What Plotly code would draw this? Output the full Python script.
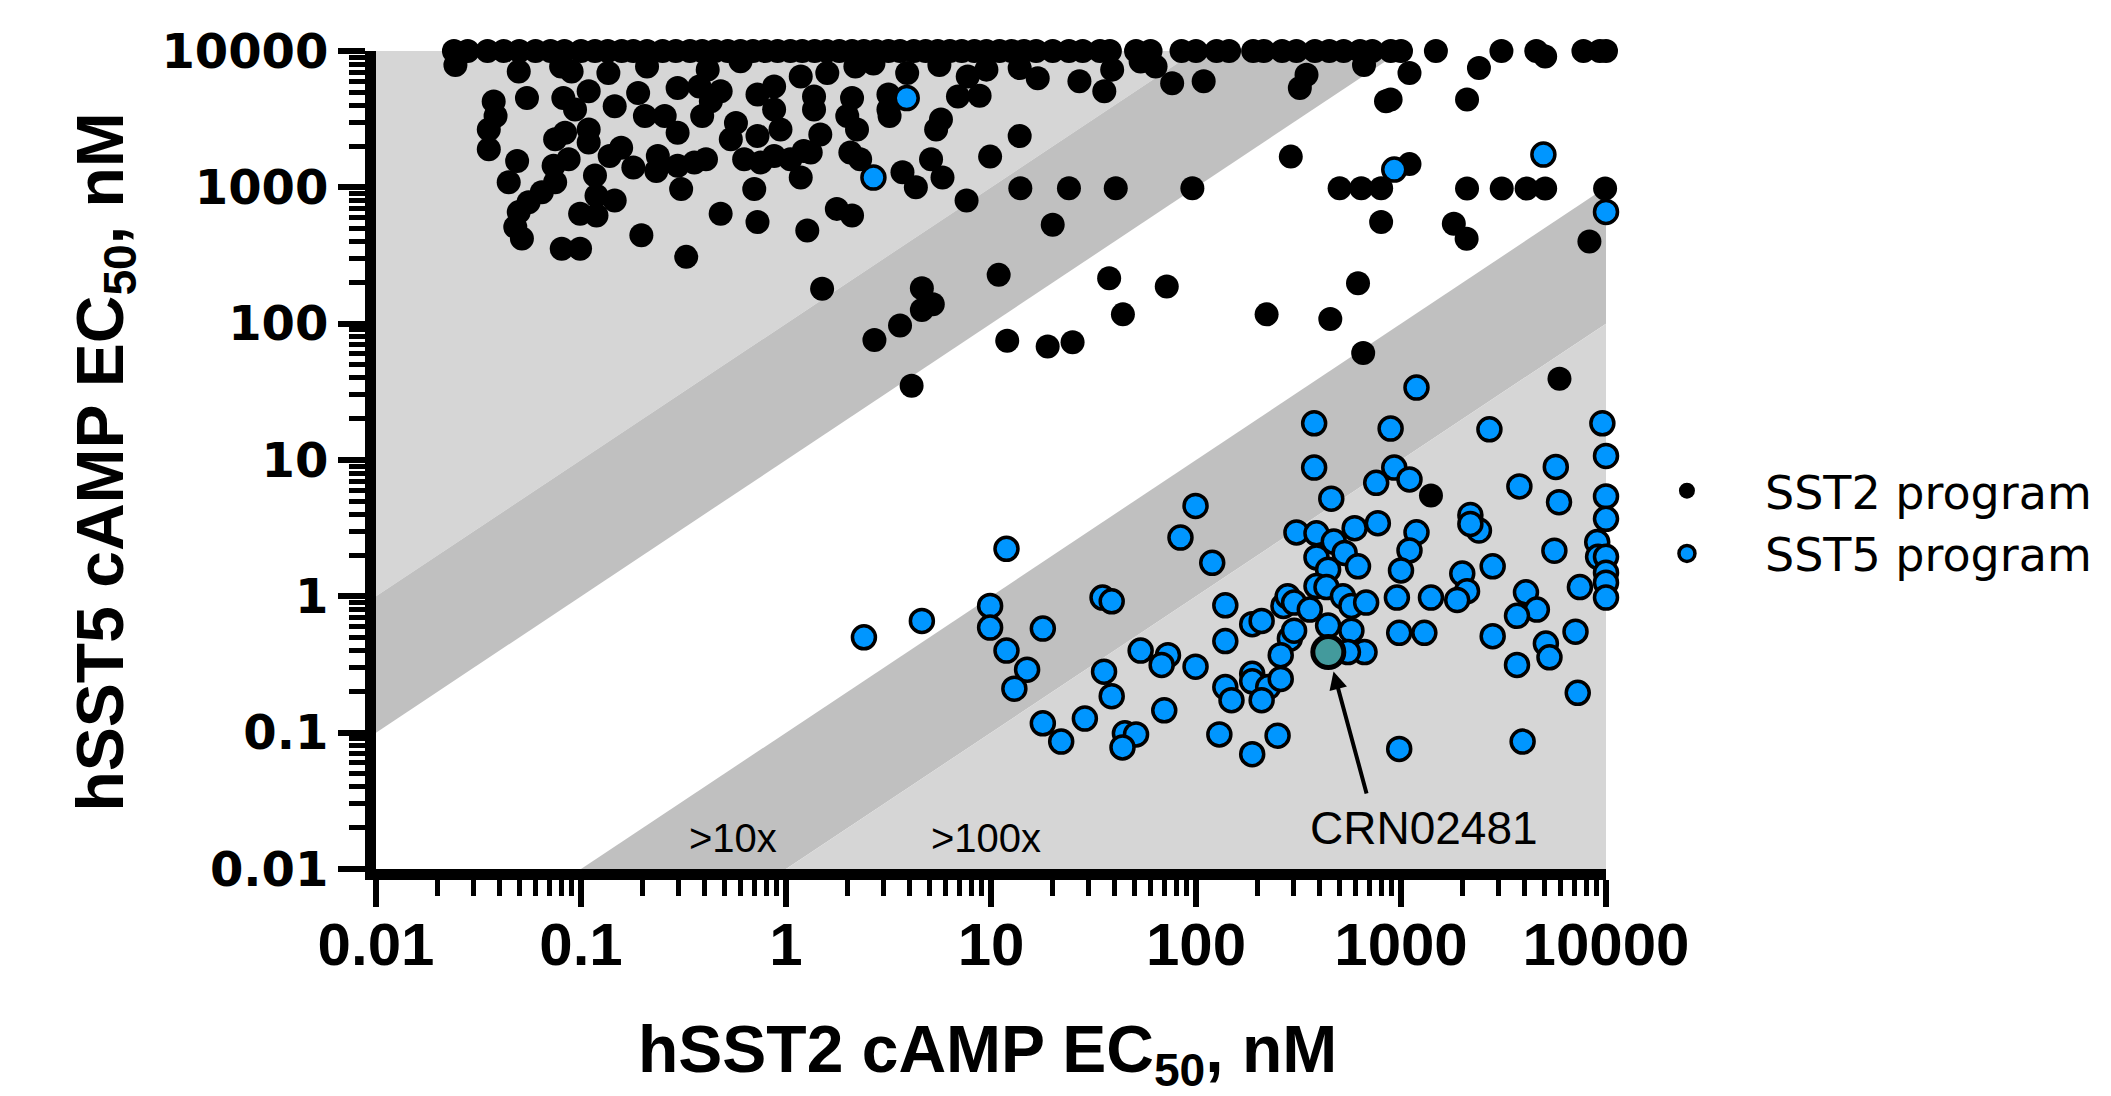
import numpy as np
import plotly.graph_objects as go

# ---------------- axis / band definitions ----------------
AXIS_MIN = 0.01
AXIS_MAX = 10000
tick_vals = [0.01, 0.1, 1, 10, 100, 1000, 10000]
tick_text = ["0.01", "0.1", "1", "10", "100", "1000", "10000"]
FOLD_LO = 10
FOLD_HI = 100
band_labels = [">10x", ">100x"]
band_label_x = [0.55, 9.5]
band_label_y = [0.0168, 0.0168]

# ---------------- data (EC50, nM): (hSST2, hSST5) ----------------
sst2_capped = [
    (0.024, 10000), (0.028, 10000), (0.035, 10000), (0.042, 10000), (0.05, 10000),
    (0.06, 10000), (0.071, 10000), (0.083, 10000), (0.1, 10000), (0.117, 10000),
    (0.135, 10000), (0.158, 10000), (0.18, 10000), (0.21, 10000), (0.25, 10000),
    (0.29, 10000), (0.34, 10000), (0.39, 10000), (0.45, 10000), (0.52, 10000),
    (0.6, 10000), (0.69, 10000), (0.79, 10000), (0.91, 10000), (1.05, 10000),
    (1.2, 10000), (1.38, 10000), (1.58, 10000), (1.82, 10000), (2.1, 10000),
    (2.4, 10000), (2.75, 10000), (3.16, 10000), (3.6, 10000), (4.2, 10000),
    (4.8, 10000), (5.5, 10000), (6.3, 10000), (7.2, 10000), (8.3, 10000),
    (9.5, 10000), (11, 10000), (12.6, 10000), (14.5, 10000), (16.6, 10000),
    (20, 10000), (24, 10000), (28, 10000), (34, 10000), (38, 10000),
    (51, 10000), (60, 10000), (85, 10000), (100, 10000), (126, 10000),
    (145, 10000), (190, 10000), (214, 10000), (263, 10000), (309, 10000),
    (380, 10000), (447, 10000), (525, 10000), (631, 10000), (724, 10000),
    (891, 10000), (1000, 10000), (1480, 10000), (3090, 10000), (4570, 10000),
    (7760, 10000), (9330, 10000), (10000, 10000), (5050, 9100),
]

sst2_cluster = [
    (0.0244, 7900), (0.0497, 7070), (0.090, 7070), (0.60, 8400), (1.59, 6900),
    (2.18, 7700), (1.18, 6500), (0.296, 5350), (0.378, 5500), (0.726, 4790),
    (0.875, 5500), (1.37, 4640), (2.1, 4520), (3.16, 4790), (3.16, 3720),
    (0.0545, 4520), (0.0375, 4270), (0.0383, 3330), (0.082, 4520), (0.0935, 3720),
    (0.109, 5060), (0.136, 6900), (0.146, 3940), (0.19, 4920), (0.205, 3330),
    (0.256, 3330), (0.43, 4280), (0.48, 5060), (0.39, 3330), (0.296, 2510),
    (0.0355, 2660), (0.0355, 1900), (0.0488, 1560), (0.0444, 1090), (0.0748, 2250),
    (0.0836, 2510), (0.109, 2660), (0.109, 2130), (0.087, 1610), (0.0735, 1440),
    (0.117, 1220), (0.0748, 1090), (0.0644, 920), (0.0555, 778), (0.0497, 658),
    (0.0478, 512), (0.0515, 421), (0.0805, 355), (0.099, 355), (0.099, 640),
    (0.119, 622), (0.119, 869), (0.146, 800), (0.157, 1950), (0.138, 1700),
    (0.18, 1400), (0.237, 1700), (0.233, 1320), (0.296, 1440), (0.308, 973),
    (0.357, 1520), (0.407, 1610), (0.48, 640), (0.726, 556), (1.27, 483),
    (1.77, 695), (2.1, 622), (0.197, 445), (0.326, 309), (1.5, 180),
    (0.538, 2250), (0.57, 2970), (0.726, 2380), (0.625, 1610), (0.753, 1520),
    (0.70, 973), (0.875, 3720), (0.94, 2660), (0.875, 1700), (1.05, 1610),
    (1.22, 1850), (1.32, 1800), (1.47, 2440), (1.37, 3720), (1.18, 1180),
    (1.99, 3330), (2.22, 2660), (2.06, 1800), (2.3, 1610), (0.08, 7700),
    (0.21, 7700), (0.415, 7300), (2.67, 8100),
]

sst2_spread = [
    (3.9, 6900), (5.6, 7900), (7.7, 6500), (9.5, 7300), (13.8, 7500),
    (16.9, 6300), (27, 6000), (39, 7300), (35.7, 5060), (53.7, 8360),
    (63.5, 7700), (76.5, 5800), (109, 6000), (346, 6700), (321, 5350),
    (845, 4280), (6.9, 4640), (8.8, 4700), (3.2, 3330), (5.7, 3150),
    (5.4, 2660), (13.8, 2380), (9.9, 1680), (5.1, 1610), (3.7, 1290),
    (5.8, 1180), (4.3, 1000), (7.6, 800), (13.9, 985), (24, 985),
    (40.6, 985), (96, 985), (20, 532), (290, 1680), (502, 985),
    (640, 985), (800, 985), (800, 556), (37.7, 215), (72, 187),
    (617, 198), (10.9, 228), (4.6, 182), (5.2, 139), (4.6, 126),
    (3.6, 97), (2.7, 76), (4.1, 35), (12, 75), (18.9, 68),
    (25, 73), (44, 117), (221, 117), (452, 108), (654, 61),
    (1100, 6900), (2400, 7500), (2100, 4400), (890, 4400), (1100, 1480),
    (2100, 980), (3100, 980), (4100, 980), (5050, 980), (9900, 980),
    (1810, 540), (2090, 420), (8300, 400), (5930, 39.5), (660, 7900),
    (1400, 5.5), (425, 0.37),
]

sst5_points = [
    (2.67, 1180), (3.88, 4520), (927, 1350), (4950, 1740), (10000, 660),
    (2.4, 0.50),
    (1190, 34), (890, 17), (2700, 16.8), (9600, 18.6), (10000, 10.7),
    (927, 8.8), (1100, 7.2), (3780, 6.4), (5690, 8.9), (5900, 4.9),
    (10000, 5.4), (10000, 3.7), (2180, 3.95), (2400, 3.04), (2180, 3.4),
    (1190, 2.95), (1100, 2.17), (1000, 1.55), (2800, 1.66), (5600, 2.16),
    (9060, 2.5), (9150, 1.95), (10000, 1.95), (10000, 1.49), (10000, 1.26),
    (10000, 0.98), (7460, 1.17), (1990, 1.47), (2100, 1.09), (1880, 0.94),
    (1400, 0.98), (955, 0.98), (980, 0.54), (1300, 0.54), (4070, 1.07),
    (4600, 0.80), (3680, 0.72), (2800, 0.51), (7100, 0.55), (5090, 0.45),
    (5300, 0.357), (3680, 0.314), (7280, 0.196), (3920, 0.086), (980, 0.076),
    (377, 18.6), (377, 8.8), (757, 6.8), (457, 5.2), (99.5, 4.6),
    (84, 2.7), (120, 1.76), (11.9, 2.23), (4.6, 0.66), (9.9, 0.85),
    (9.9, 0.59), (11.9, 0.40), (15, 0.29), (13, 0.21), (17.9, 0.58),
    (35, 0.98), (38.8, 0.92), (17.9, 0.117), (22, 0.086), (28.7, 0.127),
    (35.6, 0.28), (38.8, 0.185), (53.7, 0.40), (73, 0.37), (68, 0.314),
    (99.5, 0.305), (70, 0.146), (45, 0.099), (51, 0.097), (43.8, 0.078),
    (139, 0.86), (139, 0.47), (188, 0.625), (209, 0.66), (267, 0.85),
    (280, 1.0), (301, 0.9), (359, 0.80), (287, 0.49), (301, 0.56),
    (259, 0.37), (188, 0.27), (188, 0.238), (225, 0.216), (259, 0.248),
    (139, 0.216), (149, 0.173), (209, 0.173), (130, 0.097), (188, 0.0695),
    (250, 0.095), (309, 2.94), (387, 2.9), (470, 2.52), (594, 3.16),
    (771, 3.44), (387, 1.93), (531, 2.08), (441, 1.57), (617, 1.66),
    (387, 1.19), (433, 1.17), (521, 1.0), (573, 0.85), (676, 0.9),
    (441, 0.61), (573, 0.56), (664, 0.39), (551, 0.39),
]

crn_name = "CRN02481"
crn_x = [442]
crn_y = [0.39]

# ---------------- styling ----------------
LIGHT = "#d6d6d6"
DARK = "#c0c0c0"
BLUE = "#0096ff"
TEAL = "#439a9c"
SANS = "Liberation Sans, Arial, Helvetica, sans-serif"
WIDE = "DejaVu Sans, Verdana, sans-serif"

sst2_all = sst2_capped + sst2_cluster + sst2_spread
sst2_x = [p[0] for p in sst2_all]
sst2_y = [p[1] for p in sst2_all]
sst5_x = [p[0] for p in sst5_points]
sst5_y = [p[1] for p in sst5_points]

fig = go.Figure()

bands = [
    ([AXIS_MIN, AXIS_MIN, AXIS_MAX / FOLD_HI],
     [AXIS_MIN * FOLD_HI, AXIS_MAX, AXIS_MAX], LIGHT),
    ([AXIS_MIN, AXIS_MIN, AXIS_MAX / FOLD_HI, AXIS_MAX / FOLD_LO],
     [AXIS_MIN * FOLD_LO, AXIS_MIN * FOLD_HI, AXIS_MAX, AXIS_MAX], DARK),
    ([AXIS_MIN * FOLD_LO, AXIS_MIN * FOLD_HI, AXIS_MAX, AXIS_MAX],
     [AXIS_MIN, AXIS_MIN, AXIS_MAX / FOLD_HI, AXIS_MAX / FOLD_LO], DARK),
    ([AXIS_MIN * FOLD_HI, AXIS_MAX, AXIS_MAX],
     [AXIS_MIN, AXIS_MIN, AXIS_MAX / FOLD_HI], LIGHT),
]
for bx, by, col in bands:
    fig.add_trace(go.Scatter(x=bx, y=by, fill="toself", fillcolor=col, mode="lines",
                             line=dict(width=0, color=col), hoverinfo="skip",
                             showlegend=False))

fig.add_trace(go.Scatter(x=sst2_x, y=sst2_y, mode="markers", name="SST2 program",
                         marker=dict(size=24, color="black", line=dict(width=0)),
                         cliponaxis=False))
fig.add_trace(go.Scatter(x=sst5_x, y=sst5_y, mode="markers", name="SST5 program",
                         marker=dict(size=23, color=BLUE, line=dict(width=3.5, color="black")),
                         cliponaxis=False))
fig.add_trace(go.Scatter(x=crn_x, y=crn_y, mode="markers", name=crn_name, showlegend=False,
                         marker=dict(size=31, color=TEAL, line=dict(width=5, color="black")),
                         cliponaxis=False))

axis_common = dict(type="log", range=[np.log10(AXIS_MIN), np.log10(AXIS_MAX)],
                   showgrid=False, zeroline=False, showline=True, linewidth=11,
                   linecolor="black", ticks="outside", ticklen=27, tickwidth=6,
                   tickcolor="black", tickmode="array", tickvals=tick_vals,
                   ticktext=tick_text,
                   minor=dict(ticks="outside", ticklen=16, tickwidth=5,
                              tickcolor="black", dtick="D1", showgrid=False))

fig.update_xaxes(**axis_common, ticklabelstandoff=-14,
                 tickfont=dict(family=SANS, size=60, color="black", weight="bold"))
fig.update_yaxes(**axis_common,
                 tickfont=dict(family=WIDE, size=48, color="black", weight="bold"))

annotations = []
for txt, lx, ly in zip(band_labels, band_label_x, band_label_y):
    annotations.append(dict(x=np.log10(lx), y=np.log10(ly), xref="x", yref="y",
                            text=txt, showarrow=False,
                            font=dict(family=SANS, size=40, color="black")))
# arrow pointing at CRN02481
annotations.append(dict(x=np.log10(crn_x[0]), y=np.log10(crn_y[0]), xref="x", yref="y",
                        ax=2.834, ay=-1.457, axref="x", ayref="y", text="",
                        showarrow=True, arrowhead=2, arrowsize=0.9, arrowwidth=4,
                        arrowcolor="black", standoff=20))
annotations.append(dict(x=np.log10(1290), y=np.log10(0.02), xref="x", yref="y",
                        text=crn_name, showarrow=False,
                        font=dict(family=SANS, size=46, color="black")))
# axis titles
annotations.append(dict(x=0.497, y=-0.172, xref="paper", yref="paper",
                        xanchor="center", yanchor="top", showarrow=False,
                        text="<b>hSST2 cAMP EC<sub>50</sub>, nM</b>",
                        font=dict(family=SANS, size=66, color="black")))
annotations.append(dict(x=-0.2203, y=0.497, xref="paper", yref="paper",
                        xanchor="center", yanchor="middle", showarrow=False,
                        textangle=-90,
                        text="<b>hSST5 cAMP EC<sub>50</sub>, nM</b>",
                        font=dict(family=SANS, size=66, color="black")))

fig.update_layout(
    width=2111, height=1096,
    margin=dict(l=376, r=505, t=51, b=227, pad=0),
    paper_bgcolor="white", plot_bgcolor="white",
    annotations=annotations,
    showlegend=True,
    legend=dict(x=1.0024, xanchor="left", y=0.507, yanchor="top",
                font=dict(family=WIDE, size=46, color="black"),
                itemwidth=146, itemsizing="trace", bgcolor="rgba(0,0,0,0)",
                borderwidth=0, tracegroupgap=0),
)

fig.write_html("out.html", config={"displayModeBar": False},
               post_script="document.body.style.margin='0';")
